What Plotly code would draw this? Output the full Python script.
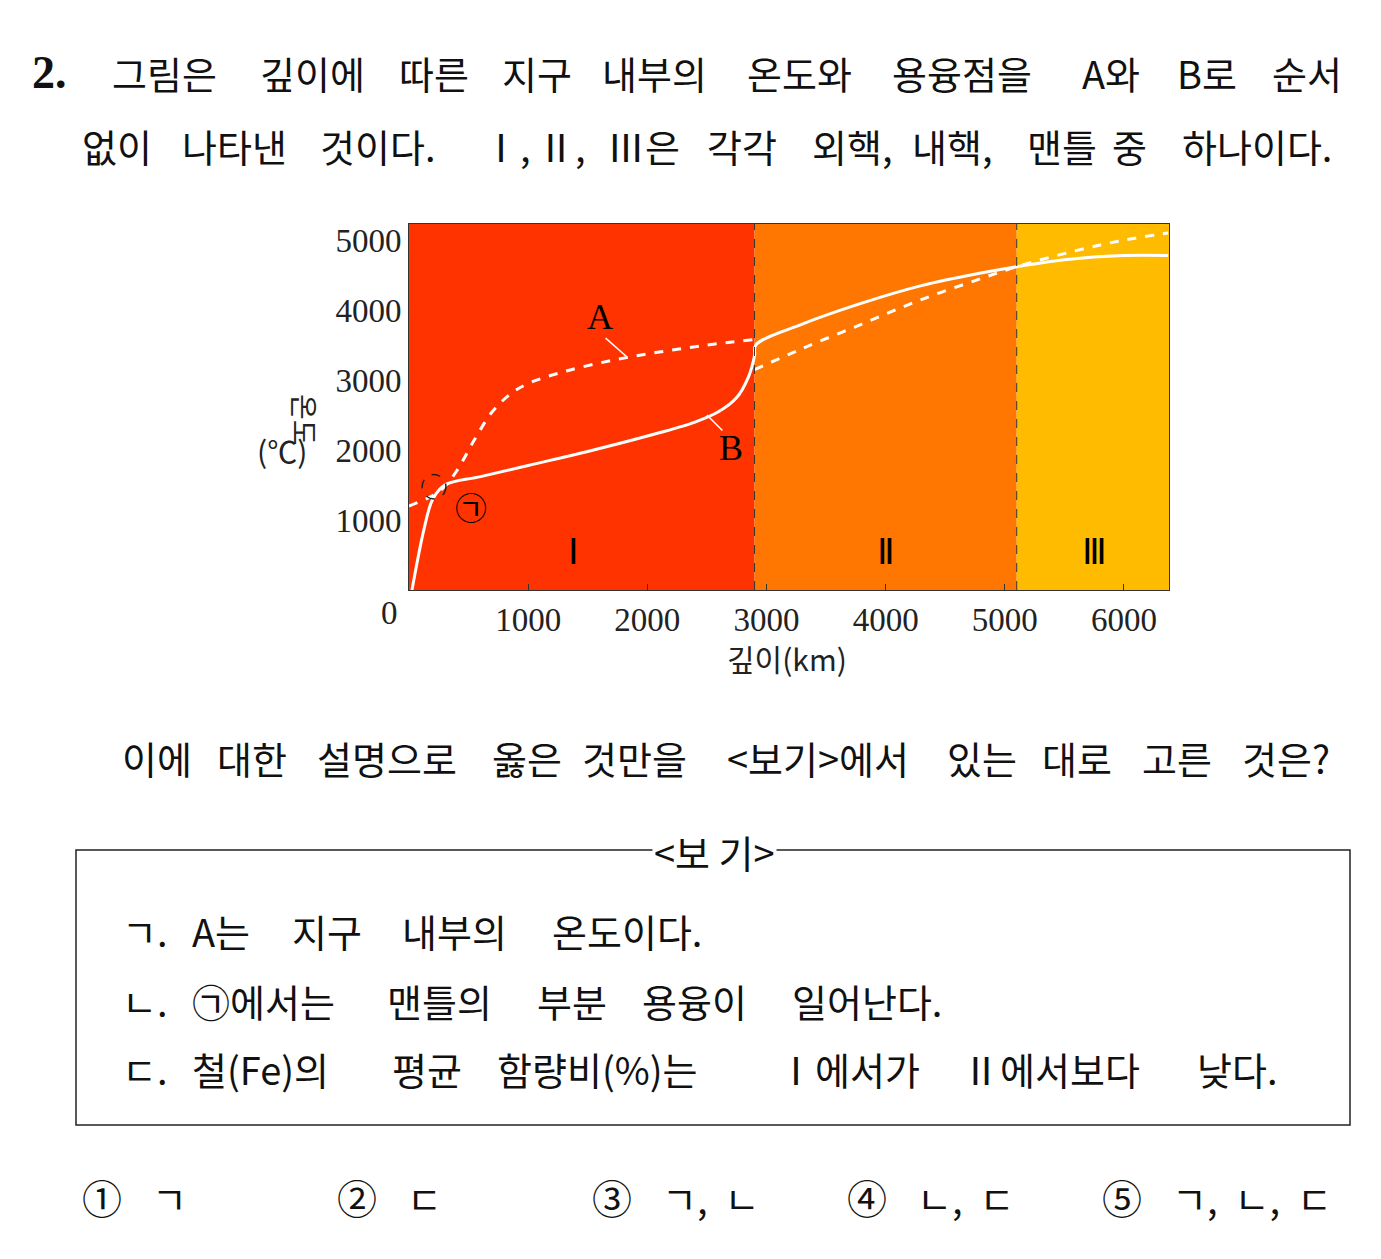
import plotly.graph_objects as go

W, H = 1381, 1259
OFF = 8  # page body margin
# data
depth_B = [25, 130, 200, 300, 600, 1000, 1500, 2000, 2400, 2600, 2750, 2850, 2900, 2910, 3300, 3800, 4300, 4800, 5100, 5500, 6000, 6371]
temp_B = [0, 900, 1300, 1500, 1620, 1780, 1980, 2200, 2400, 2550, 2750, 3050, 3350, 3500, 3800, 4100, 4350, 4530, 4620, 4720, 4780, 4780]
depth_A = [0, 200, 300, 400, 550, 700, 850, 1000, 1300, 1700, 2100, 2500, 2900]
temp_A = [1200, 1350, 1480, 1700, 2150, 2550, 2800, 2950, 3120, 3280, 3400, 3500, 3580]
depth_A2 = [2900, 3300, 3800, 4300, 4800, 5100, 5600, 6000, 6371]
temp_A2 = [3150, 3450, 3800, 4150, 4450, 4620, 4850, 5000, 5100]
layer_bounds = [0, 2900, 5100, 6378]
layer_colors = ["#FF3300", "#FF7700", "#FFBB00"]
layer_names = ["Ⅰ", "Ⅱ", "Ⅲ"]
layer_label_x = [1380, 4000, 5750]
xticks = [1000, 2000, 3000, 4000, 5000, 6000]
yticks = [1000, 2000, 3000, 4000, 5000]

KR = "Noto Sans CJK KR"
SER = "Liberation Serif"
fig = go.Figure()
for i in range(3):
    fig.add_shape(type="rect", xref="x", yref="y", x0=layer_bounds[i], x1=layer_bounds[i+1],
                  y0=0, y1=5230, fillcolor=layer_colors[i], line_width=0, layer="below")
for b in layer_bounds[1:3]:
    fig.add_shape(type="line", xref="x", yref="y", x0=b, x1=b, y0=0, y1=5230,
                  line=dict(color="#333", width=1, dash="dash"))
fig.add_trace(go.Scatter(x=depth_A, y=temp_A, mode="lines", line=dict(color="white", width=3, dash="dash", shape="spline")))
fig.add_trace(go.Scatter(x=depth_A2, y=temp_A2, mode="lines", line=dict(color="white", width=3, dash="dash", shape="spline")))
fig.add_trace(go.Scatter(x=depth_B, y=temp_B, mode="lines", line=dict(color="white", width=3, shape="spline")))
fig.add_shape(type="circle", xref="x", yref="y", x0=110, x1=310, y0=1300, y1=1650,
              line=dict(color="#222", width=1.5, dash="dash"))
for nm, lx in zip(layer_names, layer_label_x):
    fig.add_annotation(x=lx, y=550, text=nm, showarrow=False, font=dict(family=SER, size=36, color="black"))
fig.add_annotation(x=1600, y=3900, text="A", showarrow=False, font=dict(family=SER, size=36, color="black"))
fig.add_annotation(x=2700, y=2030, text="B", showarrow=False, font=dict(family=SER, size=36, color="black"))
fig.add_shape(type="line", x0=1650, y0=3600, x1=1830, y1=3330, line=dict(color="white", width=1.5))
fig.add_shape(type="line", x0=2630, y0=2280, x1=2500, y1=2500, line=dict(color="white", width=1.5))
fig.add_annotation(x=520, y=1200, text="㉠", showarrow=False, font=dict(family=KR, size=32, color="black"))

fig.update_xaxes(range=[0, 6378], tickvals=xticks, ticks="inside", ticklen=6, tickcolor="#333",
                 showgrid=False, zeroline=False, showline=True, linecolor="#333", mirror=True,
                 tickfont=dict(family=SER, size=33, color="#222"), domain=[(409-OFF)/W, (1169-OFF)/W])
fig.update_yaxes(range=[0, 5230], tickvals=yticks, ticks="", showgrid=False, zeroline=False,
                 showline=True, linecolor="#333", mirror=True,
                 tickfont=dict(family=SER, size=33, color="#222"), domain=[1-(590-OFF)/H, 1-(224-OFF)/H])

def px(x): return (x-OFF)/W
def py(y): return 1-(y-OFF)/H

def txt(x, y, s, size=38, anchor="left", family=KR, color="#111"):
    fig.add_annotation(xref="paper", yref="paper", x=px(x), y=py(y), text=s, showarrow=False,
                       xanchor=anchor, yanchor="middle", font=dict(family=family, size=size, color=color))

def words(y, items, size=38):
    for x, s in items:
        txt(x, y, s, size)

txt(389, 613, "0", 33, "center", SER, "#222")
txt(787, 658, "깊이(km)", 30, "center", KR, "#222")
fig.add_annotation(xref="paper", yref="paper", x=px(283), y=py(392), text="온도", textangle=90, showarrow=False,
                   font=dict(family=KR, size=28, color="#222"))
txt(282, 450, "(℃)", 30, "center", KR, "#222")

txt(30, 72, "<b>2.</b>", 46, "left", SER)
words(72, [(110, "그림은"), (258, "깊이에"), (397, "따른"), (500, "지구"), (600, "내부의"), (745, "온도와"),
           (890, "용융점을"), (1080, "A와"), (1175, "B로"), (1270, "순서")])
words(145, [(80, "없이"), (180, "나타낸"), (318, "것이다."), (480, "Ⅰ,"), (535, "Ⅱ,"), (605, "Ⅲ은"),
            (705, "각각"), (810, "외핵,"), (910, "내핵,"), (1025, "맨틀"), (1110, "중"), (1180, "하나이다.")])
words(757, [(120, "이에"), (215, "대한"), (315, "설명으로"), (490, "옳은"), (580, "것만을"),
            (725, "&lt;보기&gt;에서"), (945, "있는"), (1040, "대로"), (1140, "고른"), (1240, "것은?")])
fig.add_shape(type="rect", xref="paper", yref="paper", x0=px(76), x1=px(1350), y0=py(1125), y1=py(850),
              line=dict(color="#222", width=1.5))
fig.add_annotation(xref="paper", yref="paper", x=px(715), y=py(851), text="&lt;보 기&gt;", showarrow=False,
                   bgcolor="white", yanchor="middle", font=dict(family=KR, size=38, color="#111"))
words(930, [(120, "ㄱ."), (190, "A는"), (290, "지구"), (400, "내부의"), (550, "온도이다.")])
words(1000, [(120, "ㄴ."), (190, "㉠에서는"), (385, "맨틀의"), (535, "부분"), (640, "용융이"), (790, "일어난다.")])
words(1068, [(120, "ㄷ."), (190, "철(Fe)의"), (390, "평균"), (495, "함량비(%)는"), (775, "Ⅰ에서가"),
             (960, "Ⅱ에서보다"), (1195, "낮다.")])
for x, s in zip([80, 335, 590, 845, 1100], ["①", "②", "③", "④", "⑤"]):
    txt(x, 1197, s, 40)
for x, s in zip([150, 405, 660, 915, 1170], ["ㄱ", "ㄷ", "ㄱ,  ㄴ", "ㄴ,  ㄷ", "ㄱ,  ㄴ,  ㄷ"]):
    txt(x, 1197, s, 38)

fig.update_layout(width=W, height=H, margin=dict(l=0, r=0, t=0, b=0), showlegend=False,
                  paper_bgcolor="white", plot_bgcolor="white")
fig.write_html("out.html")
